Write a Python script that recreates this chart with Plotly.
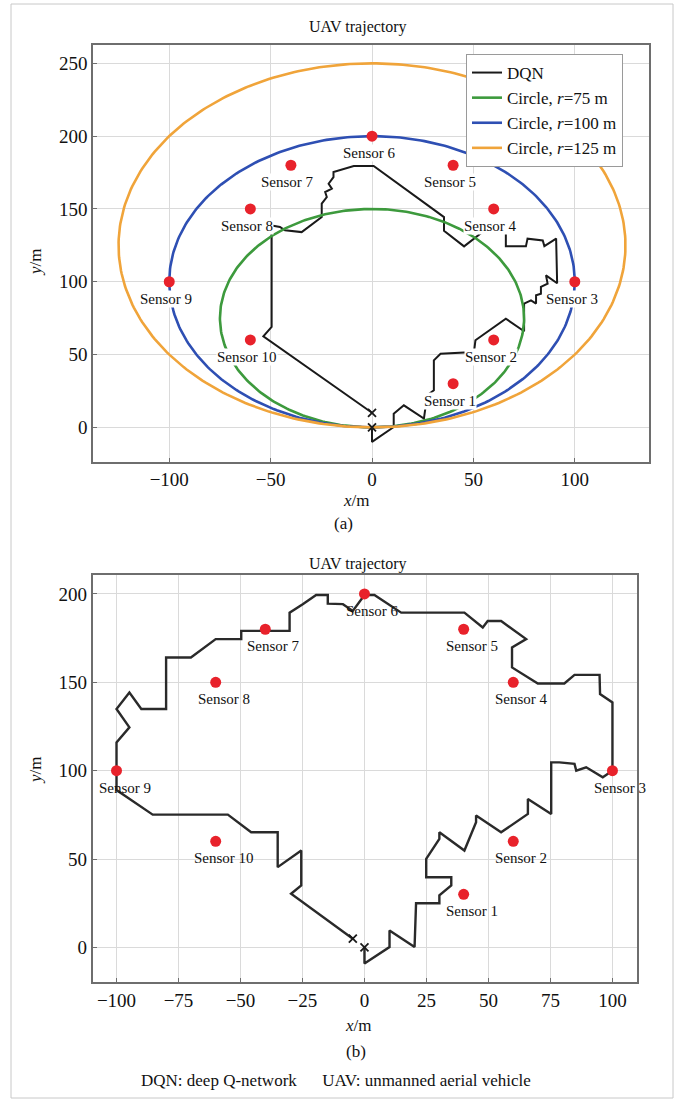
import numpy as np
import plotly.graph_objects as go

W, H = 679, 1103

# ---------------- data ----------------
sensor_names = [f"Sensor {i}" for i in range(1, 11)]
sensor_x = [40, 60, 100, 60, 40, 0, -40, -60, -100, -60]
sensor_y = [30, 60, 100, 150, 180, 200, 180, 150, 100, 60]

circle_radii = [75, 100, 125]
circle_colors = ["#3d9a3d", "#2e4fb3", "#f0a43a"]

# (a) DQN trajectory
dqn_a_x = [0, -53.6, -49.5, -49.5, -45.4, -42.9, -34.7, -24.8, -24.8, -22.3, -23.1, -19.8,
           -21.4, -19.0, -19.0, -9.0, 0.8, 35.5, 35.5, 45.4, 55.3, 66.0, 66.0, 75.9, 76.7,
           84.2, 85.0, 90.8, 91.3, 85.8, 86.6, 83.3, 83.3, 80.9, 80.9, 78.4, 75.0, 75.0,
           66.0, 51.0, 50.3, 33.8, 30.5, 30.5, 27.2, 25.6, 15.7, 10.7, 10.7, 0, 0]
dqn_a_y = [10, 62.5, 69.0, 138.7, 137.6, 135.3, 134.1, 144.4, 153.6, 158.2, 161.6, 163.9,
           167.3, 171.9, 175.4, 179.5, 179.5, 144.4, 135.0, 124.3, 135.0, 135.0, 124.3, 124.3,
           129.6, 128.4, 124.5, 129.6, 99.0, 104.4, 98.7, 96.4, 91.8, 90.7, 85.0, 87.2, 85.0,
           66.0, 74.6, 59.8, 51.7, 50.6, 46.0, 25.4, 22.0, 6.0, 15.1, 9.4, 0.2, -10, 0]
start_a_x = [0, 0]
start_a_y = [0, 10]

# (b) DQN trajectory
dqn_b_x = [-4.7, -29.6, -25.5, -25.5, -35.0, -35.0, -45.7, -55.1, -85.4, -100.0, -100.0,
           -100.0, -94.8, -100.0, -94.8, -90.0, -80.0, -80.0, -70.0, -60.0, -49.7, -49.7,
           -30.2, -30.2, -24.9, -19.5, -14.8, -14.8, -8.7, -4.7, 0.0, 4.0, 14.8, 40.3, 47.7,
           49.7, 55.1, 65.2, 59.5, 59.5, 69.9, 80.6, 84.7, 94.8, 95.0, 100.0, 100.0, 96.1,
           89.4, 85.4, 84.7, 78.6, 75.3, 75.3, 65.9, 65.9, 55.1, 45.0, 45.0, 40.3, 30.2,
           30.2, 24.9, 24.9, 35.0, 35.0, 30.2, 30.2, 20.8, 20.2, 10.1, 10.1, 0.0, 0.0]
dqn_b_y = [4.9, 30.3, 35.0, 54.8, 45.4, 65.1, 65.1, 75.1, 75.1, 89.0, 100.0,
           116.0, 124.5, 134.9, 144.2, 134.9, 134.9, 164.0, 164.0, 174.4, 174.4, 179.1,
           179.1, 189.4, 194.2, 199.4, 199.4, 194.5, 194.2, 190.4, 199.4, 199.4, 189.4, 189.4,
           181.0, 184.7, 184.7, 174.4, 169.7, 158.4, 149.3, 149.3, 154.2, 154.2, 143.3, 138.6,
           100.0, 96.2, 101.9, 100.0, 103.8, 104.7, 104.7, 75.5, 84.0, 75.5, 65.1, 74.6, 70.8,
           54.8, 65.1, 61.4, 50.1, 39.7, 39.7, 35.0, 29.4, 25.0, 25.0, 0.2, 9.6, 0.2, -9.2, 0.0]
start_b_x = [0, -4.7]
start_b_y = [0, 4.9]

top_xticks = [-100, -50, 0, 50, 100]
top_yticks = [0, 50, 100, 150, 200, 250]
bot_xticks = [-100, -75, -50, -25, 0, 25, 50, 75, 100]
bot_yticks = [0, 50, 100, 150, 200]

FONT = "Liberation Serif"

fig = go.Figure()

# ---- (a) ----
fig.add_trace(go.Scatter(x=dqn_a_x, y=dqn_a_y, mode="lines", name="DQN",
                         line=dict(color="#1a1a1a", width=2), xaxis="x", yaxis="y"))
for r, c in zip(circle_radii, circle_colors):
    t = np.linspace(0, 2 * np.pi, 361)
    fig.add_trace(go.Scatter(x=r * np.sin(t), y=r - r * np.cos(t), mode="lines",
                             name=f"Circle, <i>r</i>={r} m",
                             line=dict(color=c, width=2.6), xaxis="x", yaxis="y"))
fig.add_trace(go.Scatter(x=start_a_x, y=start_a_y, mode="markers", showlegend=False,
                         marker=dict(symbol="x-thin", size=8, line=dict(color="#1a1a1a", width=1.8)),
                         xaxis="x", yaxis="y"))
fig.add_trace(go.Scatter(x=sensor_x, y=sensor_y, mode="markers", showlegend=False,
                         marker=dict(color="#e8222b", size=11), xaxis="x", yaxis="y"))

# ---- (b) ----
fig.add_trace(go.Scatter(x=dqn_b_x, y=dqn_b_y, mode="lines", showlegend=False,
                         line=dict(color="#2a2a2a", width=2.4), xaxis="x2", yaxis="y2"))
fig.add_trace(go.Scatter(x=start_b_x, y=start_b_y, mode="markers", showlegend=False,
                         marker=dict(symbol="x-thin", size=8, line=dict(color="#1a1a1a", width=1.8)),
                         xaxis="x2", yaxis="y2"))
fig.add_trace(go.Scatter(x=sensor_x, y=sensor_y, mode="markers", showlegend=False,
                         marker=dict(color="#e8222b", size=11), xaxis="x2", yaxis="y2"))


def px_x(p):
    return p / W


def px_y(p):
    return 1 - p / H


axis_common = dict(showline=True, mirror=True, linecolor="#6e6e6e", linewidth=1.6,
                   showgrid=True, gridcolor="#dadada", gridwidth=1.3, zeroline=False,
                   ticks="inside", ticklen=4, tickcolor="#6e6e6e",
                   tickfont=dict(family=FONT, size=19, color="#111"))

fig.update_layout(
    width=W, height=H, margin=dict(l=0, r=0, t=0, b=0),
    paper_bgcolor="white", plot_bgcolor="white",
    font=dict(family=FONT, color="#111"),
    xaxis=dict(domain=[px_x(93), px_x(649)], range=[-137.6, 136.6], tickvals=top_xticks,
               anchor="y", **axis_common),
    yaxis=dict(domain=[px_y(461.7), px_y(45)], range=[-23.6, 262.6], tickvals=top_yticks,
               anchor="x", **axis_common),
    xaxis2=dict(domain=[px_x(92.7), px_x(637)], range=[-109.6, 109.9], tickvals=bot_xticks,
                anchor="y2", **axis_common),
    yaxis2=dict(domain=[px_y(982), px_y(575)], range=[-19.6, 210.7], tickvals=bot_yticks,
                anchor="x2", **axis_common),
    legend=dict(x=px_x(466), y=px_y(54), xanchor="left", yanchor="top",
                bgcolor="white", bordercolor="#9a9a9a", borderwidth=1,
                font=dict(family=FONT, size=17, color="#111"),
                tracegroupgap=0),
    showlegend=True,
)

ann = []
for name, sx, sy in zip(sensor_names, sensor_x, sensor_y):
    ann.append(dict(x=sx, y=sy, xref="x", yref="y", text=name, showarrow=False,
                    yshift=-17, xshift=-3, bgcolor="white", borderpad=0,
                    font=dict(family=FONT, size=15, color="#111")))
    ann.append(dict(x=sx, y=sy, xref="x2", yref="y2", text=name, showarrow=False,
                    yshift=-17, xshift=8,
                    font=dict(family=FONT, size=15, color="#111")))

texts = [
    ("UAV trajectory", 358, 27, 16, 0),
    ("<i>x</i>/m", 356, 500, 17, 0),
    ("(a)", 343, 523, 17, 0),
    ("<i>y</i>/m", 35, 262, 17, -90),
    ("UAV trajectory", 358, 564, 16, 0),
    ("<i>x</i>/m", 358, 1025, 17, 0),
    ("(b)", 356, 1051, 17, 0),
    ("<i>y</i>/m", 35, 770, 17, -90),
    ("DQN: deep Q-network &nbsp;&nbsp;&nbsp;&nbsp; UAV: unmanned aerial vehicle", 336, 1080, 17, 0),
]
for t, x, y, s, ang in texts:
    ann.append(dict(x=px_x(x), y=px_y(y), xref="paper", yref="paper", text=t,
                    showarrow=False, textangle=ang, xanchor="center", yanchor="middle",
                    font=dict(family=FONT, size=s, color="#111")))

fig.update_layout(annotations=ann)
fig.add_shape(type="rect", xref="paper", yref="paper",
              x0=px_x(11), x1=px_x(673), y0=px_y(1098), y1=px_y(4),
              line=dict(color="#c8c8c8", width=1), layer="below")

fig.write_html("out.html", config={"displayModeBar": False},
               post_script="document.body.style.margin='0';")
